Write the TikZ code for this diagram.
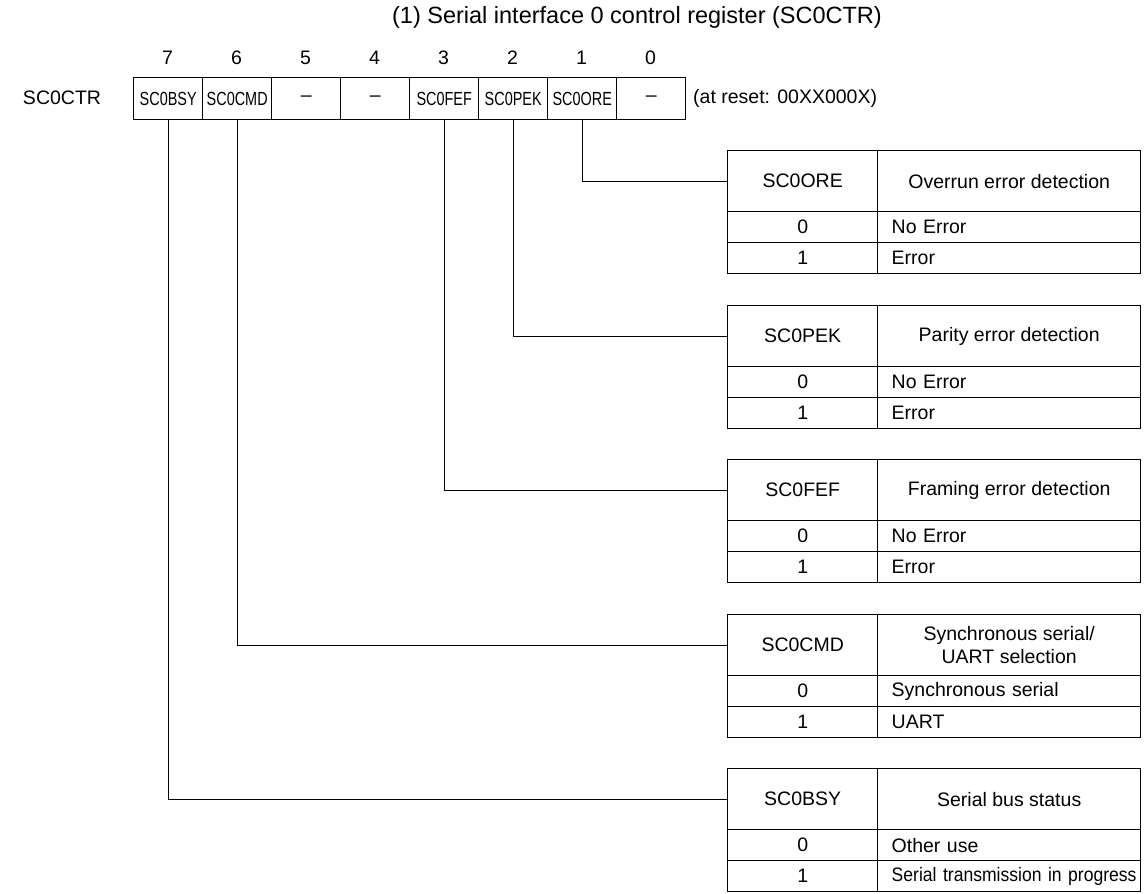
\documentclass[tikz,border=0pt]{standalone}
\usepackage{fontspec}
\setmainfont{Liberation Sans}
\newfontfamily\narrowfont[FakeStretch=0.76]{Liberation Sans}
\newfontfamily\semifont[FakeStretch=0.9]{Liberation Sans}
\newcommand\regdash{{\fontspec{Liberation Sans}\fontsize{19.5}{23}\selectfont\textendash}}
\begin{document}
\begin{tikzpicture}[x=1pt,y=-1pt,
  txt/.style={font=\fontsize{19.5}{23}\selectfont, inner sep=0pt},
  regcell/.style={draw, line width=1.4pt, minimum width=69pt, minimum height=42pt, inner sep=0pt,
    anchor=north west, font=\narrowfont\fontsize{19}{22}\selectfont},
  tcell/.style={draw, line width=1.4pt, inner sep=0pt, anchor=north west,
    font=\fontsize{19.5}{23}\selectfont},
  keycol/.style={tcell, minimum width=150pt},
  desccol/.style={tcell, minimum width=263pt},
  leftcol/.style={tcell, text width=235pt, inner xsep=14pt, align=left},
  conn/.style={line width=1.4pt}]
\useasboundingbox (0,0) rectangle (1144,894);

\node[font=\fontsize{23.5}{27}\selectfont, inner sep=0pt] (title) at (637,17) {(1) Serial interface 0 control register (SC0CTR)};
\node[txt] (regname) at (62,98) {SC0CTR};
\node[txt, anchor=west] (reset) at (693,98) {(at reset: 00XX000X)};

% register cells, bit 7 .. bit 0
\foreach \i/\lbl/\nm in {7/SC0BSY/b7, 6/SC0CMD/b6, 5/\regdash/b5, 4/\regdash/b4, 3/SC0FEF/b3, 2/SC0PEK/b2, 1/SC0ORE/b1, 0/\regdash/b0}{
  \node[regcell] (\nm) at ({133+69*(7-\i)},77) {\lbl};
  \node[txt] (\nm-num) at ({167.5+69*(7-\i)},58) {\i};
}

\newcommand\regtab[6]{%
  \node[keycol, minimum height=61pt] (#2-k) at (727,#1) {#3};
  \node[desccol, minimum height=61pt, align=center] (#2-d) at (877,#1) {#4};
  \node[keycol, minimum height=31pt] (#2-k0) at (727,#1+61) {0};
  \node[leftcol, minimum height=31pt] (#2-d0) at (877,#1+61) {\mbox{#5}};
  \node[keycol, minimum height=31pt] (#2-k1) at (727,#1+92) {1};
  \node[leftcol, minimum height=31pt] (#2-d1) at (877,#1+92) {\mbox{#6}};
}

\regtab{150}{ore}{SC0ORE}{Overrun error detection}{No Error}{Error}
\regtab{305}{pek}{SC0PEK}{Parity error detection}{No Error}{Error}
\regtab{459}{fef}{SC0FEF}{Framing error detection}{No Error}{Error}
\regtab{614}{cmd}{SC0CMD}{Synchronous serial/\\UART selection}{Synchronous serial}{UART}
\regtab{768}{bsy}{SC0BSY}{Serial bus status}{Other use}{\semifont\fontsize{19.5}{23}\selectfont Serial transmission in progress}

\draw[conn] (b1.south) |- (ore-k.west);
\draw[conn] (b2.south) |- (pek-k.west);
\draw[conn] (b3.south) |- (fef-k.west);
\draw[conn] (b6.south) |- (cmd-k.west);
\draw[conn] (b7.south) |- (bsy-k.west);
\end{tikzpicture}
\end{document}
